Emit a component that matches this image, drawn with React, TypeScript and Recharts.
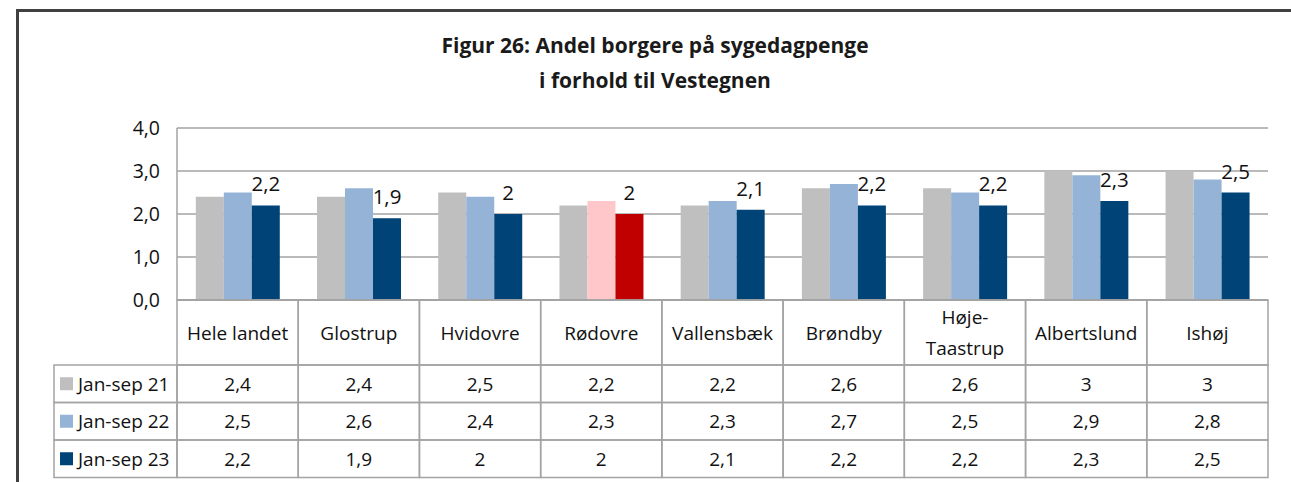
import { Bar, BarChart, CartesianGrid, Cell, LabelList, XAxis, YAxis } from "recharts";

const categories = ["Hele landet", "Glostrup", "Hvidovre", "Rødovre", "Vallensbæk", "Brøndby", "Høje-Taastrup", "Albertslund", "Ishøj"];
const seriesNames = ["Jan-sep 21", "Jan-sep 22", "Jan-sep 23"];
const jansep21 = [2.4, 2.4, 2.5, 2.2, 2.2, 2.6, 2.6, 3, 3];
const jansep22 = [2.5, 2.6, 2.4, 2.3, 2.3, 2.7, 2.5, 2.9, 2.8];
const jansep23 = [2.2, 1.9, 2, 2, 2.1, 2.2, 2.2, 2.3, 2.5];
const yTicks = [0, 1, 2, 3, 4];
const highlight = "Rødovre";

const colors = ["#BFBFBF", "#95B3D7", "#004376"];
const highlightColors = ["#BFBFBF", "#FFC7C9", "#C00000"];

const FONT = "'Open Sans', sans-serif";
const LINE = "#A3A3A3";
const W = 1291;
const H = 482;
const PLOT_LEFT = 177;
const PLOT_RIGHT = 1268;
const PLOT_TOP = 128;
const PLOT_BOTTOM = 300;
const Y_AXIS_W = 60;
const HEADER_H = 65;
const ROW_H = 37.5;
const TABLE_H = HEADER_H + ROW_H * 3;
const BAND = (PLOT_RIGHT - PLOT_LEFT) / categories.length;
const LEGEND_LEFT = 54;

const rows = [jansep21, jansep22, jansep23];

const fmt = (v: number) => String(v).replace(".", ",");

const data = categories.map((name, i) => ({
  name,
  s21: jansep21[i],
  s22: jansep22[i],
  s23: jansep23[i],
}));

function TableTick(props: any) {
  const { x, y, payload, index } = props;
  const left = x - BAND / 2;
  const label: string = payload.value;
  const lines = label.includes("-") ? [label.slice(0, label.indexOf("-") + 1), label.slice(label.indexOf("-") + 1)] : [label];
  return (
    <g fontFamily={FONT} fontSize={19} fill="#111">
      <rect x={left} y={y} width={BAND} height={HEADER_H} fill="none" stroke={LINE} strokeWidth={1.5} />
      {lines.map((l, li) => (
        <text
          key={li}
          x={x}
          y={y + HEADER_H / 2 + (li - (lines.length - 1) / 2) * 31}
          textAnchor="middle"
          dominantBaseline="central"
        >
          {l}
        </text>
      ))}
      {rows.map((r, ri) => (
        <g key={ri}>
          <rect x={left} y={y + HEADER_H + ri * ROW_H} width={BAND} height={ROW_H} fill="none" stroke={LINE} strokeWidth={1.5} />
          <text x={x} y={y + HEADER_H + ri * ROW_H + ROW_H / 2} textAnchor="middle" dominantBaseline="central">
            {fmt(r[index])}
          </text>
        </g>
      ))}
      {index === 0 &&
        seriesNames.map((s, ri) => (
          <g key={s}>
            <rect
              x={LEGEND_LEFT}
              y={y + HEADER_H + ri * ROW_H}
              width={left - LEGEND_LEFT}
              height={ROW_H}
              fill="none"
              stroke={LINE}
              strokeWidth={1.5}
            />
            <rect x={LEGEND_LEFT + 6} y={y + HEADER_H + ri * ROW_H + ROW_H / 2 - 6.5} width={13} height={13} fill={colors[ri]} />
            <text x={LEGEND_LEFT + 24} y={y + HEADER_H + ri * ROW_H + ROW_H / 2} dominantBaseline="central">
              {s}
            </text>
          </g>
        ))}
    </g>
  );
}

export default function App() {
  return (
    <div style={{ position: "absolute", top: 0, left: 0, width: W, height: H, background: "#fff", overflow: "hidden" }}>
      <div
        style={{
          position: "absolute",
          left: 16,
          top: 9,
          width: W,
          height: H,
          borderTop: "3px solid #404040",
          borderLeft: "3px solid #404040",
        }}
      />
      <div
        style={{
          position: "absolute",
          left: 19,
          top: 28,
          width: W - 19,
          textAlign: "center",
          fontFamily: FONT,
          fontWeight: 700,
          fontSize: 21,
          lineHeight: "35px",
          color: "#1a1a1a",
        }}
      >
        Figur 26: Andel borgere på sygedagpenge
        <br />i forhold til Vestegnen
      </div>
      <div style={{ position: "absolute", top: 0, left: 0 }}>
        <BarChart
          width={W}
          height={H}
          data={data}
          margin={{ top: PLOT_TOP, right: W - PLOT_RIGHT, left: PLOT_LEFT - Y_AXIS_W, bottom: H - PLOT_BOTTOM - TABLE_H - 3 }}
          barCategoryGap="15.5%"
          barGap={0}
        >
          <CartesianGrid vertical={false} stroke={LINE} strokeWidth={1.5} />
          <XAxis
            dataKey="name"
            interval={0}
            height={TABLE_H + 3}
            tickLine={false}
            tickSize={0}
            tickMargin={0}
            axisLine={{ stroke: LINE, strokeWidth: 1.5 }}
            tick={<TableTick />}
          />
          <YAxis
            width={Y_AXIS_W}
            domain={[0, 4]}
            ticks={yTicks}
            tickFormatter={(v: number) => v.toFixed(1).replace(".", ",")}
            tickLine={false}
            tickSize={0}
            tickMargin={17}
            axisLine={{ stroke: LINE, strokeWidth: 1.5 }}
            tick={{ fontFamily: FONT, fontSize: 19.5, fill: "#111" }}
          />
          <Bar dataKey="s21" isAnimationActive={false}>
            {categories.map((c) => (
              <Cell key={c} fill={c === highlight ? highlightColors[0] : colors[0]} />
            ))}
          </Bar>
          <Bar dataKey="s22" isAnimationActive={false}>
            {categories.map((c) => (
              <Cell key={c} fill={c === highlight ? highlightColors[1] : colors[1]} />
            ))}
          </Bar>
          <Bar dataKey="s23" isAnimationActive={false}>
            {categories.map((c) => (
              <Cell key={c} fill={c === highlight ? highlightColors[2] : colors[2]} />
            ))}
            <LabelList
              dataKey="s23"
              position="top"
              offset={14}
              formatter={(v: any) => fmt(Number(v))}
              style={{ fontFamily: FONT, fontSize: 20.5, fill: "#111" }}
            />
          </Bar>
        </BarChart>
      </div>
    </div>
  );
}
